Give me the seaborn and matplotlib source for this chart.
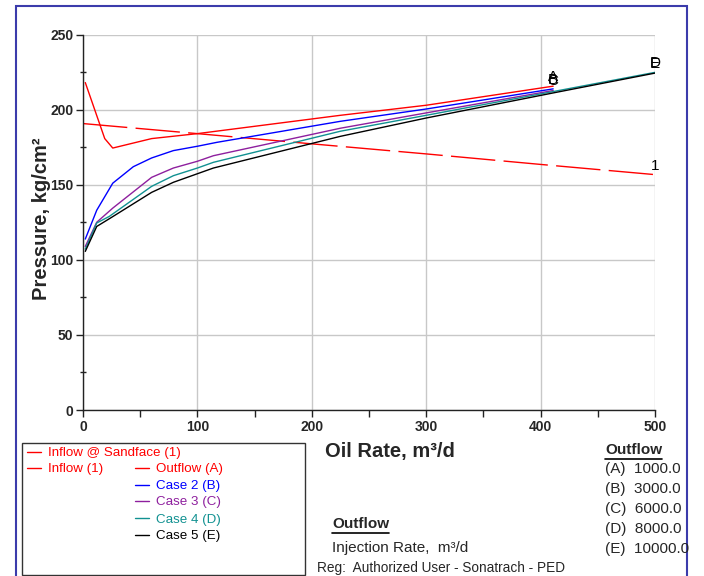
import numpy as np
import pandas as pd
import matplotlib
matplotlib.use("Agg")
import matplotlib.pyplot as plt
import seaborn as sns
from matplotlib.lines import Line2D
from matplotlib.patches import Rectangle
from matplotlib.ticker import MultipleLocator

# ---------------- data ----------------
inflow_x = [0, 100, 200, 300, 400, 500]
inflow_y = [190.7, 184.0, 177.2, 170.5, 163.5, 156.7]

outA_x = [2, 19, 26, 60, 100, 225, 300, 411]
outA_y = [218.0, 180.7, 174.4, 180.7, 184.0, 196.2, 202.9, 215.6]

caseB_x = [2, 12, 26, 44, 60, 79, 100, 117, 225, 300, 411]
caseB_y = [113.8, 133.0, 151.0, 162.0, 167.8, 172.7, 175.6, 178.2, 192.2, 200.4, 213.8]

caseC_x = [2, 12, 26, 60, 79, 100, 114, 225, 300, 411]
caseC_y = [108.9, 125.0, 134.4, 154.9, 161.1, 165.6, 169.3, 187.6, 197.8, 212.7]

caseD_x = [2, 12, 23, 60, 79, 100, 114, 225, 300, 411, 500]
caseD_y = [107.1, 124.5, 128.9, 148.9, 156.0, 161.1, 164.9, 185.6, 196.2, 212.0, 224.8]

caseE_x = [2, 12, 24, 60, 79, 100, 114, 225, 300, 411, 500]
caseE_y = [105.6, 122.2, 127.8, 144.9, 151.6, 157.3, 161.1, 182.2, 194.4, 211.1, 224.3]

legend_labels = ["Inflow @ Sandface (1)", "Inflow (1)", "Outflow (A)",
                 "Case 2 (B)", "Case 3 (C)", "Case 4 (D)", "Case 5 (E)"]
end_tags = ["1", "A", "B", "C", "D", "E"]
outflow_cases = ["(A)", "(B)", "(C)", "(D)", "(E)"]
outflow_values = ["1000.0", "3000.0", "6000.0", "8000.0", "10000.0"]

RED, BLUE, PURPLE, TEAL, BLACK = "#ff0000", "#0000ff", "#8e1f9e", "#119191", "#000000"

# ---------------- figure ----------------
sns.set_theme(style="white")
plt.rcParams["font.family"] = ["Liberation Sans", "DejaVu Sans"]

W, H = 704, 576
fig = plt.figure(figsize=(W / 100, H / 100), dpi=100)
fig.patch.set_facecolor("white")

def fx(px):
    return px / W

def fy(py):
    return 1 - py / H

ax = fig.add_axes([fx(83), fy(410), fx(655) - fx(83), fy(34.5) - fy(410)])
ax.set_facecolor("white")

series = [
    (inflow_x, inflow_y, RED, (0, (32, 6)), end_tags[0]),
    (outA_x, outA_y, RED, "-", end_tags[1]),
    (caseB_x, caseB_y, BLUE, "-", end_tags[2]),
    (caseC_x, caseC_y, PURPLE, "-", end_tags[3]),
    (caseD_x, caseD_y, TEAL, "-", end_tags[4]),
    (caseE_x, caseE_y, BLACK, "-", end_tags[5]),
]

for xs, ys, col, ls, tag in series:
    df = pd.DataFrame({"x": xs, "y": ys})
    sns.lineplot(data=df, x="x", y="y", ax=ax, color=col, linewidth=1.0,
                 estimator=None, sort=False, linestyle=ls)
    ax.annotate(tag, xy=(xs[-1], ys[-1]), xytext=(0, 1.5), textcoords="offset points",
                ha="center", va="bottom", fontsize=11, color="black")

ax.set_xlim(0, 500)
ax.set_ylim(0, 250)
ax.xaxis.set_major_locator(MultipleLocator(100))
ax.xaxis.set_minor_locator(MultipleLocator(50))
ax.yaxis.set_major_locator(MultipleLocator(50))
ax.yaxis.set_minor_locator(MultipleLocator(25))
ax.grid(True, which="major", color="#c8c8c8", linewidth=1.0)
ax.set_axisbelow(True)
for s in ["top", "right"]:
    ax.spines[s].set_visible(False)
for s in ["left", "bottom"]:
    ax.spines[s].set_color("#222222")
    ax.spines[s].set_linewidth(1.0)
ax.tick_params(axis="both", which="major", direction="out", length=5, width=1,
               color="#222222", labelsize=10, pad=2, bottom=True, left=True)
ax.tick_params(axis="x", which="minor", direction="out", length=5, width=1,
               color="#222222", bottom=True)
ax.tick_params(axis="y", which="minor", direction="inout", length=4, width=1,
               color="#222222", left=True)
for lab in ax.get_xticklabels() + ax.get_yticklabels():
    lab.set_fontweight("bold")
ax.set_xlabel("")
ax.set_ylabel("")

# axis titles
fig.text(fx(42), fy(219), "Pressure, kg/cm²", rotation=90, ha="center", va="center",
         fontsize=14.5, fontweight="bold")
fig.text(fx(325), fy(451), "Oil Rate, m³/d", ha="left", va="center",
         fontsize=14.5, fontweight="bold")

# outer blue frame and legend box
fig.patches.append(Rectangle((fx(16), fy(590)), fx(687) - fx(16), fy(6) - fy(590),
                             transform=fig.transFigure, fill=False,
                             edgecolor="#3b3bab", linewidth=1.5))
fig.patches.append(Rectangle((fx(22), fy(575)), fx(305) - fx(22), fy(443) - fy(575),
                             transform=fig.transFigure, fill=False,
                             edgecolor="#333333", linewidth=1.0))

# custom legend
leg_items = [
    (27, 453, legend_labels[0], RED),
    (27, 469, legend_labels[1], RED),
    (135, 469, legend_labels[2], RED),
    (135, 486.5, legend_labels[3], BLUE),
    (135, 502.5, legend_labels[4], PURPLE),
    (135, 519.5, legend_labels[5], TEAL),
    (135, 536, legend_labels[6], BLACK),
]
for lx, ly, txt, col in leg_items:
    fig.add_artist(Line2D([fx(lx), fx(lx + 14)], [fy(ly - 1.5), fy(ly - 1.5)], color=col,
                          linewidth=1.0, transform=fig.transFigure))
    fig.text(fx(lx + 20.5), fy(ly), txt, color=col, fontsize=9.6, ha="left", va="center")

# outflow info texts
t_right = fig.text(fx(605), fy(450), "Outflow", fontsize=11, fontweight="bold",
                   ha="left", va="center")
ys_right = [469, 488.5, 508.5, 529, 549]
for yy, c, v in zip(ys_right, outflow_cases, outflow_values):
    fig.text(fx(605), fy(yy), f"{c}  {v}", fontsize=11, ha="left", va="center")

t_mid = fig.text(fx(332), fy(524), "Outflow", fontsize=11, fontweight="bold",
                 ha="left", va="center")
fig.text(fx(332), fy(548), "Injection Rate,  m³/d", fontsize=11, ha="left", va="center")
fig.text(fx(317), fy(568), "Reg:  Authorized User - Sonatrach - PED", fontsize=9.8,
         ha="left", va="center")

# underline the two "Outflow" headings
fig.canvas.draw()
rend = fig.canvas.get_renderer()
for t in (t_right, t_mid):
    bb = t.get_window_extent(renderer=rend)
    yline = bb.y0 - 1.5
    fig.add_artist(Line2D([bb.x0 / W, bb.x1 / W], [yline / H, yline / H],
                          color="black", linewidth=1.2, transform=fig.transFigure))

fig.savefig("out.png", dpi=100, facecolor="white")
